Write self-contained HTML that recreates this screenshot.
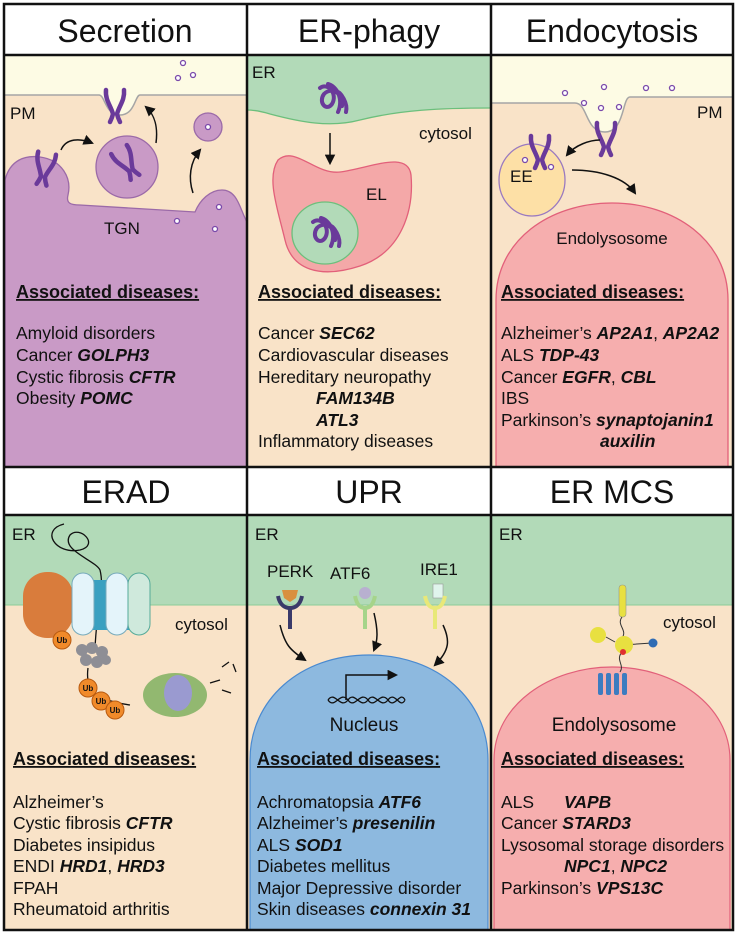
<!DOCTYPE html>
<html><head><meta charset="utf-8"><style>
html,body{margin:0;padding:0;background:#fff}
svg{display:block}
text{font-family:"Liberation Sans",Arial,sans-serif;fill:#111}
.t{font-size:32px;text-anchor:middle}
.l{font-size:17px}
.h{font-size:18px;font-weight:bold;text-decoration:underline}
.d{font-size:17.5px}
.b{font-weight:bold;font-style:italic}
.ub{font-size:8px;font-weight:bold;text-anchor:middle}
</style></head><body>
<svg width="737" height="936" viewBox="0 0 737 936" xmlns="http://www.w3.org/2000/svg">
<defs>
<marker id="ah" viewBox="0 0 10 10" refX="8" refY="5" markerWidth="7" markerHeight="7" orient="auto"><path d="M0,0 L10,5 L0,10 z" fill="#111"/></marker>
<g id="rec"><path d="M-9,-12 C-10,-2 -4,4 -2,12 M9,-12 C10,-2 4,4 2,12 M-2,12 C-3,16 -4,18 -5,20 M2,12 C3,16 4,18 5,20" stroke="#6a3a9a" stroke-width="4.5" fill="none" stroke-linecap="round"/></g>
<g id="sq"><path d="M-12,-10 C-4,-16 6,-4 0,6 C-6,14 -14,4 -8,-4 C0,-12 12,-4 10,8 M-4,-14 C4,-12 12,0 6,14 M2,-8 C10,-6 16,6 14,14" stroke="#6a3a9a" stroke-width="4" fill="none" stroke-linecap="round"/></g>
</defs>
<!-- ===== TOP ROW ===== -->
<!-- Secretion -->
<rect x="5" y="55" width="242" height="412" fill="#f9e3c8"/>
<path d="M5,55 H247 V95 H140 C135,95 135,115 120,115 C105,115 105,95 99,95 H5 Z" fill="#fdfbe4"/>
<path d="M5,95 H99 C105,95 105,115 120,115 C135,115 135,95 140,95 H247" fill="none" stroke="#a5a5a5" stroke-width="1.5"/>
<path d="M5,180 C10,160 25,155 40,157 C62,160 72,178 68,195 C66,203 70,205 80,205 L195,212 C200,200 210,190 222,190 C238,190 240,210 247,222 V467 H5 Z" fill="#c99ac6" stroke="#9b6aa8" stroke-width="1.3"/>
<circle cx="127" cy="167" r="31" fill="#c99ac6" stroke="#9b6aa8" stroke-width="1.3"/>
<circle cx="208" cy="127" r="14" fill="#c99ac6" stroke="#9b6aa8" stroke-width="1.3"/>
<circle cx="208" cy="127" r="2.5" fill="#fff" stroke="#7a4aaa" stroke-width="1.3"/>
<g fill="#fff" stroke="#7a4aaa" stroke-width="1.3"><circle cx="183" cy="63" r="2.5"/><circle cx="178" cy="78" r="2.5"/><circle cx="193" cy="75" r="2.5"/><circle cx="177" cy="221" r="2.5"/><circle cx="219" cy="207" r="2.5"/><circle cx="215" cy="229" r="2.5"/></g>
<use href="#rec" transform="translate(115,102)"/>
<use href="#rec" transform="translate(125,160) rotate(-30)"/>
<use href="#rec" transform="translate(45,165) rotate(10)"/>
<path d="M61,150 C66,138 80,138 92,143" fill="none" stroke="#111" stroke-width="1.5" marker-end="url(#ah)"/>
<path d="M156,143 C158,128 155,115 146,107" fill="none" stroke="#111" stroke-width="1.5" marker-end="url(#ah)"/>
<path d="M193,193 C188,178 190,162 200,150" fill="none" stroke="#111" stroke-width="1.5" marker-end="url(#ah)"/>
<text class="l" x="10" y="119">PM</text>
<text class="l" x="104" y="234">TGN</text>
<text class="h" x="16" y="298">Associated diseases:</text>
<g class="d"><text x="16" y="339">Amyloid disorders</text><text x="16" y="361">Cancer <tspan class="b">GOLPH3</tspan></text><text x="16" y="383">Cystic fibrosis <tspan class="b">CFTR</tspan></text><text x="16" y="404">Obesity <tspan class="b">POMC</tspan></text></g>

<!-- ER-phagy -->
<rect x="247" y="55" width="244" height="412" fill="#f9e3c8"/>
<path d="M247,55 H491 V108 C440,108 400,110 360,120 C330,128 300,122 270,114 C260,111 252,110 247,110 Z" fill="#b2dab8"/>
<path d="M247,110 C252,110 260,111 270,114 C300,122 330,128 360,120 C400,110 440,108 491,108" fill="none" stroke="#6cbf7c" stroke-width="1.3"/>
<use href="#sq" transform="translate(332,98)"/>
<text class="l" x="252" y="78">ER</text>
<text class="l" x="419" y="139">cytosol</text>
<path d="M330,133 V163" stroke="#111" stroke-width="1.5" marker-end="url(#ah)"/>
<path d="M278,160 C295,145 315,175 340,172 C370,168 408,150 411,175 C414,210 402,252 360,266 C320,279 292,270 285,240 C278,210 266,178 278,160 Z" fill="#f4a8a8" stroke="#e2607a" stroke-width="1.3"/>
<ellipse cx="325" cy="233" rx="33" ry="31" fill="#b2dab8" stroke="#6cbf7c" stroke-width="1.3"/>
<use href="#sq" transform="translate(325,232)"/>
<text class="l" x="366" y="200">EL</text>
<text class="h" x="258" y="298">Associated diseases:</text>
<g class="d"><text x="258" y="339">Cancer <tspan class="b">SEC62</tspan></text><text x="258" y="361">Cardiovascular diseases</text><text x="258" y="383">Hereditary neuropathy</text><text class="b" x="316" y="404">FAM134B</text><text class="b" x="316" y="426">ATL3</text><text x="258" y="447">Inflammatory diseases</text></g>

<!-- Endocytosis -->
<rect x="491" y="55" width="242" height="412" fill="#f9e3c8"/>
<path d="M491,55 H733 V97 H630 C622,97 625,132 605,132 C585,132 588,103 575,103 H491 Z" fill="#fdfbe4"/>
<path d="M491,103 H575 C588,103 585,132 605,132 C625,132 622,97 630,97 H733" fill="none" stroke="#a5a5a5" stroke-width="1.5"/>
<g fill="#fff" stroke="#7a4aaa" stroke-width="1.3"><circle cx="565" cy="93" r="2.5"/><circle cx="604" cy="87" r="2.5"/><circle cx="646" cy="88" r="2.5"/><circle cx="672" cy="88" r="2.5"/><circle cx="584" cy="103" r="2.5"/><circle cx="601" cy="108" r="2.5"/><circle cx="619" cy="107" r="2.5"/></g>
<ellipse cx="532" cy="180" rx="33" ry="36" fill="#fde0a6" stroke="#9a7ac0" stroke-width="1.3"/>
<g fill="#fff" stroke="#7a4aaa" stroke-width="1.3"><circle cx="525" cy="160" r="2.5"/><circle cx="551" cy="167" r="2.5"/></g>
<use href="#rec" transform="translate(606,135)"/>
<use href="#rec" transform="translate(540,148)"/>
<path d="M600,140 C590,140 575,145 567,155" fill="none" stroke="#111" stroke-width="1.5" marker-end="url(#ah)"/>
<path d="M572,170 C600,170 625,178 635,193" fill="none" stroke="#111" stroke-width="1.5" marker-end="url(#ah)"/>
<text class="l" x="510" y="182">EE</text>
<text class="l" x="697" y="118">PM</text>
<path d="M496,467 V300 C496,240 550,203 612,203 C674,203 728,240 728,300 V467 Z" fill="#f6aeae" stroke="#e2607a" stroke-width="1.3"/>
<text class="l" x="612" y="244" text-anchor="middle">Endolysosome</text>
<text class="h" x="501" y="298">Associated diseases:</text>
<g class="d"><text x="501" y="339">Alzheimer’s <tspan class="b">AP2A1</tspan>, <tspan class="b">AP2A2</tspan></text><text x="501" y="361">ALS <tspan class="b">TDP-43</tspan></text><text x="501" y="383">Cancer <tspan class="b">EGFR</tspan>, <tspan class="b">CBL</tspan></text><text x="501" y="404">IBS</text><text x="501" y="426">Parkinson’s <tspan class="b">synaptojanin1</tspan></text><text class="b" x="600" y="447">auxilin</text></g>

<!-- ===== BOTTOM ROW ===== -->
<rect x="5" y="515" width="728" height="415" fill="#f9e3c8"/>
<rect x="5" y="515" width="728" height="90" fill="#b2dab8"/>
<line x1="5" y1="605" x2="733" y2="605" stroke="#8ccc98" stroke-width="1"/>
<text class="l" x="12" y="540">ER</text><text class="l" x="255" y="540">ER</text><text class="l" x="499" y="540">ER</text>
<!-- ERAD -->
<path d="M64,524 C40,530 55,555 80,550 C100,545 80,525 70,535 C60,550 95,560 100,570 C105,590 96,610 95,650" fill="none" stroke="#111" stroke-width="1.3"/>
<rect x="23" y="572" width="50" height="66" rx="24" fill="#d97c3c"/>
<rect x="85" y="580" width="45" height="50" fill="#3aa0c0"/>
<rect x="72" y="573" width="22" height="62" rx="11" fill="#e4f4fa" stroke="#7ab" stroke-width="1"/>
<rect x="106" y="573" width="22" height="62" rx="11" fill="#e4f4fa" stroke="#7ab" stroke-width="1"/>
<rect x="128" y="573" width="22" height="62" rx="11" fill="#cfe9dc" stroke="#5a9" stroke-width="1"/>
<g fill="#8e8e95"><circle cx="82" cy="650" r="6"/><circle cx="92" cy="648" r="6"/><circle cx="102" cy="652" r="6"/><circle cx="86" cy="660" r="6"/><circle cx="97" cy="662" r="6"/><circle cx="106" cy="660" r="5"/></g>
<path d="M88,668 C85,690 95,700 130,705" fill="none" stroke="#111" stroke-width="1.3"/>
<g fill="#92b870"><ellipse cx="175" cy="695" rx="32" ry="22"/></g>
<ellipse cx="178" cy="693" rx="14" ry="18" fill="#9a9ad0"/>
<g fill="#f08a2a" stroke="#b85a10" stroke-width="1"><circle cx="62" cy="640" r="9"/><circle cx="88" cy="688" r="9"/><circle cx="101" cy="701" r="9"/><circle cx="115" cy="710" r="9"/></g>
<text class="ub" x="62" y="643">Ub</text><text class="ub" x="88" y="691">Ub</text><text class="ub" x="101" y="704">Ub</text><text class="ub" x="115" y="713">Ub</text>
<path d="M222,667 L229,662 M233,664 L236,672 M210,683 L220,680 M222,690 L231,693" stroke="#111" stroke-width="1.3"/>
<text class="l" x="175" y="630">cytosol</text>
<!-- UPR -->
<path d="M250,930 V760 C250,700 300,655 369,655 C438,655 488,700 488,760 V930 Z" fill="#8db9df" stroke="#4a8ad0" stroke-width="1.2"/>
<text class="l" x="267" y="577">PERK</text><text class="l" x="330" y="579">ATF6</text><text class="l" x="420" y="575">IRE1</text>
<path d="M282,590 H298 L296,598 L290,602 L284,598 Z" fill="#d99040"/>
<path d="M278,596 C280,606 286,608 290,608 C294,608 300,606 302,596" fill="none" stroke="#3a3a6a" stroke-width="4"/>
<rect x="288" y="607" width="4" height="22" fill="#3a3a6a"/>
<circle cx="365" cy="593" r="6" fill="#b8b0d0"/>
<path d="M355,596 C357,606 361,608 365,608 C369,608 373,606 375,596" fill="none" stroke="#a6d48a" stroke-width="4"/>
<rect x="363" y="607" width="4" height="22" fill="#a6d48a"/>
<rect x="433" y="584" width="10" height="14" fill="#e0f4ec" stroke="#999" stroke-width=".6"/>
<path d="M425,596 C427,606 431,608 435,608 C439,608 443,606 445,596" fill="none" stroke="#e8e878" stroke-width="4"/>
<rect x="433" y="607" width="4" height="22" fill="#e8e878"/>
<path d="M280,625 C285,645 290,650 305,660" fill="none" stroke="#111" stroke-width="1.5" marker-end="url(#ah)"/>
<path d="M374,613 C378,630 378,640 374,650" fill="none" stroke="#111" stroke-width="1.5" marker-end="url(#ah)"/>
<path d="M443,625 C450,640 450,650 435,665" fill="none" stroke="#111" stroke-width="1.5" marker-end="url(#ah)"/>
<path d="M346,700 V675 H396" fill="none" stroke="#111" stroke-width="1.5" marker-end="url(#ah)"/>
<path d="M328,700 C335,690 340,710 348,700 C355,690 360,710 368,700 C375,690 380,710 388,700 C395,690 400,710 405,700 M328,700 C335,710 340,690 348,700 C355,710 360,690 368,700 C375,710 380,690 388,700 C395,710 400,690 405,700" fill="none" stroke="#111" stroke-width="1.3"/>
<text class="l" x="364" y="731" text-anchor="middle" style="font-size:19px">Nucleus</text>
<!-- ER MCS -->
<path d="M494,930 V760 C494,705 550,667 612,667 C674,667 730,705 730,760 V930 Z" fill="#f6aeae" stroke="#e2607a" stroke-width="1.2"/>
<rect x="619" y="585" width="7" height="32" rx="3" fill="#e8e040" stroke="#998" stroke-width=".6"/>
<path d="M622,617 C616,625 628,630 622,638 M622,645 L652,643 M622,652 C615,660 625,665 620,672" fill="none" stroke="#333" stroke-width="1"/>
<circle cx="598" cy="635" r="8" fill="#e8e040"/>
<path d="M606,637 L615,642" stroke="#333" stroke-width="1"/>
<circle cx="624" cy="645" r="9" fill="#e8e040"/>
<circle cx="623" cy="652" r="3" fill="#e03030"/>
<circle cx="653" cy="643" r="4.5" fill="#2f6cb4"/>
<g fill="#3d7cc0"><rect x="598" y="673" width="5" height="22" rx="2"/><rect x="606" y="673" width="5" height="22" rx="2"/><rect x="614" y="673" width="5" height="22" rx="2"/><rect x="622" y="673" width="5" height="22" rx="2"/></g>
<text class="l" x="663" y="628">cytosol</text>
<text class="l" x="614" y="731" text-anchor="middle" style="font-size:19px">Endolysosome</text>

<text class="h" x="13" y="765">Associated diseases:</text>
<text class="h" x="257" y="765">Associated diseases:</text>
<text class="h" x="501" y="765">Associated diseases:</text>
<g class="d">
<text x="13" y="808">Alzheimer’s</text><text x="13" y="829">Cystic fibrosis <tspan class="b">CFTR</tspan></text><text x="13" y="851">Diabetes insipidus</text><text x="13" y="872">ENDI <tspan class="b">HRD1</tspan>, <tspan class="b">HRD3</tspan></text><text x="13" y="894">FPAH</text><text x="13" y="915">Rheumatoid arthritis</text>
<text x="257" y="808">Achromatopsia <tspan class="b">ATF6</tspan></text><text x="257" y="829">Alzheimer’s <tspan class="b">presenilin</tspan></text><text x="257" y="851">ALS <tspan class="b">SOD1</tspan></text><text x="257" y="872">Diabetes mellitus</text><text x="257" y="894">Major Depressive disorder</text><text x="257" y="915">Skin diseases <tspan class="b">connexin 31</tspan></text>
<text x="501" y="808">ALS</text><text class="b" x="564" y="808">VAPB</text><text x="501" y="829">Cancer <tspan class="b">STARD3</tspan></text><text x="501" y="851">Lysosomal storage disorders</text><text x="564" y="872"><tspan class="b">NPC1</tspan>, <tspan class="b">NPC2</tspan></text><text x="501" y="894">Parkinson’s <tspan class="b">VPS13C</tspan></text>
</g>

<!-- titles -->
<rect x="5" y="5" width="728" height="50" fill="#fff"/>
<rect x="5" y="467" width="728" height="48" fill="#fff"/>
<text class="t" x="125" y="42">Secretion</text><text class="t" x="369" y="42">ER-phagy</text><text class="t" x="612" y="42">Endocytosis</text>
<text class="t" x="126" y="503">ERAD</text><text class="t" x="369" y="503">UPR</text><text class="t" x="612" y="503">ER MCS</text>
<!-- grid -->
<g stroke="#111" stroke-width="2.5" fill="none">
<rect x="4" y="4" width="729" height="926"/>
<line x1="4" y1="55" x2="733" y2="55"/><line x1="4" y1="467" x2="733" y2="467"/><line x1="4" y1="515" x2="733" y2="515"/>
<line x1="247" y1="4" x2="247" y2="930"/><line x1="491" y1="4" x2="491" y2="930"/>
</g>
</svg>
</body></html>
